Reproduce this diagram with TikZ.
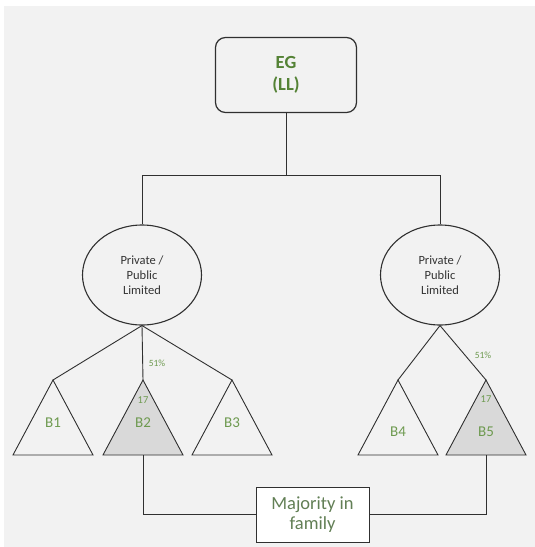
\documentclass[tikz,border=0pt]{standalone}
\usepackage{fontspec}
\setmainfont{Carlito}
\usetikzlibrary{shapes.geometric}
\definecolor{bggray}{HTML}{F2F2F2}
\definecolor{linegray}{HTML}{303030}
\definecolor{egreen}{HTML}{548235}
\definecolor{lgreen}{HTML}{6E9A50}
\definecolor{mgreen}{HTML}{627F55}
\definecolor{trifill}{HTML}{D9D9D9}
\tikzset{
  wire/.style={draw=linegray, line width=0.9pt},
  headbox/.style={draw=linegray, line width=1.2pt, rounded corners=10pt, fill=bggray,
    minimum width=141pt, minimum height=75pt, inner sep=0pt,
    font=\fontsize{18.5}{24}\selectfont\bfseries, text=egreen, align=center},
  company/.style={ellipse, draw=linegray, line width=1.1pt, fill=bggray,
    minimum width=119pt, minimum height=100pt, inner sep=0pt,
    font=\fontsize{12.5}{15}\selectfont, text=black!80, align=center},
  famblock/.style={draw=linegray, line width=0.9pt, fill=white,
    minimum width=113pt, minimum height=55pt, inner sep=0pt,
    font=\fontsize{18.5}{20}\selectfont, text=mgreen, align=center},
  tri/.style={draw=linegray, line width=0.9pt, line join=miter},
  blabel/.style={font=\fontsize{15}{15}\selectfont, text=lgreen, inner sep=0pt},
  small/.style={font=\fontsize{10.5}{10.5}\selectfont, text=lgreen, inner sep=0pt},
  share/.style={font=\fontsize{9.5}{9.5}\selectfont, text=lgreen, inner sep=0pt},
}
\begin{document}
\begin{tikzpicture}[x=1pt, y=-1pt]
  % canvas with thin white margin on the top and left
  \fill[white] (0,0) rectangle (535,547);
  \fill[bggray] (4,6) rectangle (535,547);
  \useasboundingbox (0,0) rectangle (535,547);

  % top holding
  \node[headbox] (eg) at (286,75) {EG\\[-2pt](LL)};
  \coordinate (split) at (286,175);
  \coordinate (splitL) at (142,175);
  \coordinate (splitR) at (440,175);

  % two companies
  \node[company] (pl) at (142,275) {Private /\\Public\\Limited};
  \node[company] (pr) at (440,275) {Private /\\Public\\Limited};

  \draw[wire] (eg.south) -- (split);
  \draw[wire] (pl.north) -- (splitL) -- (splitR) -- (pr.north);

  % triangle apexes and base centres
  \foreach \n/\x in {1/53, 2/143, 3/232, 4/398, 5/486} {
    \coordinate (a\n) at (\x,380);
    \coordinate (b\n) at (\x,455);
  }

  % subsidiaries
  \fill[trifill] (a2) -- ++(-40,75) -- ++(80,0) -- cycle;
  \fill[trifill] (a5) -- ++(-40,75) -- ++(80,0) -- cycle;
  \foreach \n in {1,2,3,4,5}
    \draw[tri] (a\n) -- ++(-40,75) -- ++(80,0) -- cycle;

  % shareholdings
  \draw[wire] (pl.south) -- (a1);
  \draw[wire] (pl.south) -- (a2);
  \draw[wire] (pl.south) -- (a3);
  \draw[wire] (pr.south) -- (a4);
  \draw[wire] (pr.south) -- (a5);

  \node[blabel] (t1) at (53,423) {B1};
  \node[blabel] (t2) at (143,423) {B2};
  \node[blabel] (t3) at (232,423) {B3};
  \node[blabel] (t4) at (398,432) {B4};
  \node[blabel] (t5) at (486,432) {B5};
  \node[small] (n2) at (143,400) {17};
  \node[small] (n5) at (486,399) {17};
  \node[share] (p2) at (157,363) {51\%};
  \node[share] (p5) at (483,355) {51\%};

  % family link
  \node[famblock] (fam) at (312.5,514.5) {Majority in\\family};
  \draw[wire] (b2) |- (fam.west);
  \draw[wire] (b5) |- (fam.east);
\end{tikzpicture}
\end{document}
